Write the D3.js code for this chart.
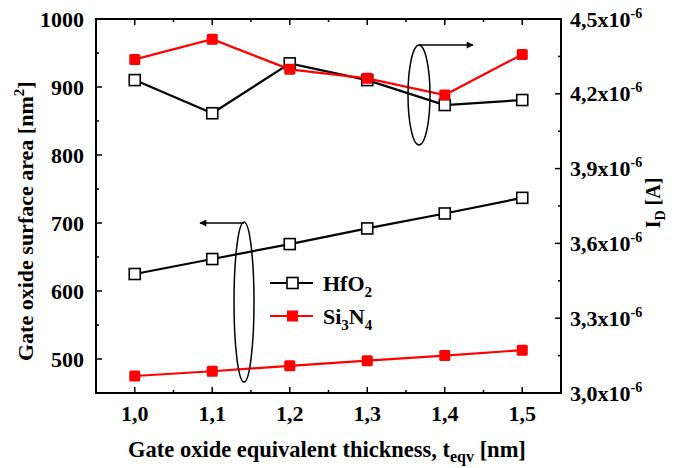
<!DOCTYPE html>
<html><head><meta charset="utf-8">
<script src="https://cdn.jsdelivr.net/npm/d3@7"></script>
<style>body{margin:0;background:#fff}svg{display:block}text{font-family:"Liberation Serif","Times New Roman",serif;font-weight:bold;fill:#000}</style>
</head><body>
<svg id="c" width="682" height="468"></svg>
<script>
const thickness = [1.0, 1.1, 1.2, 1.3, 1.4, 1.5];
const areaHfO2 = [625, 647, 669, 692, 714, 737];
const areaSi3N4 = [475, 482, 490, 497.5, 505, 513];
const idHfO2 = [4.255e-6, 4.122e-6, 4.322e-6, 4.255e-6, 4.155e-6, 4.175e-6];
const idSi3N4 = [4.338e-6, 4.419e-6, 4.298e-6, 4.262e-6, 4.195e-6, 4.358e-6];
const xTicks = [1.0, 1.1, 1.2, 1.3, 1.4, 1.5];
const leftTicks = [500, 600, 700, 800, 900, 1000];
const rightTicks = [3.0e-6, 3.3e-6, 3.6e-6, 3.9e-6, 4.2e-6, 4.5e-6];

const L = 96, R = 561, T = 19, B = 393;
const svg = d3.select("#c");
const x = d3.scaleLinear().domain([0.95, 1.55]).range([L, R]);
const yL = d3.scaleLinear().domain([450, 1000]).range([B, T]);
const yR = d3.scaleLinear().domain([3.0e-6, 4.5e-6]).range([B, T]);
const fmt = v => v.toFixed(1).replace(".", ",");

// ticks (inside)
const g = svg.append("g").attr("stroke", "#000").attr("stroke-width", 1.5);
const xMinor = d3.range(0, 12).map(i => 0.95 + 0.05 * i).filter(v => v > 0.96 && v < 1.54);
xMinor.forEach(v => {
  const major = xTicks.some(t => Math.abs(t - v) < 1e-6);
  const len = major ? 6 : 3;
  g.append("line").attr("x1", x(v)).attr("x2", x(v)).attr("y1", B).attr("y2", B - len);
  g.append("line").attr("x1", x(v)).attr("x2", x(v)).attr("y1", T).attr("y2", T + len);
});
d3.range(450, 1001, 50).forEach(v => {
  const len = v % 100 === 0 ? 6 : 3;
  g.append("line").attr("x1", L).attr("x2", L + len).attr("y1", yL(v)).attr("y2", yL(v));
});
d3.range(0, 11).map(i => 3.0e-6 + 0.15e-6 * i).forEach((v, i) => {
  const len = i % 2 === 0 ? 6 : 3;
  g.append("line").attr("x1", R).attr("x2", R - len).attr("y1", yR(v)).attr("y2", yR(v));
});
svg.append("rect").attr("x", L).attr("y", T).attr("width", R - L).attr("height", B - T)
  .attr("fill", "none").attr("stroke", "#000").attr("stroke-width", 2);

// tick labels
const fs = 22;
xTicks.forEach(v => svg.append("text").attr("x", x(v)).attr("y", 421).attr("text-anchor", "middle")
  .attr("font-size", fs).text(fmt(v)));
leftTicks.forEach(v => svg.append("text").attr("x", L - 12).attr("y", yL(v) + 7.5).attr("text-anchor", "end")
  .attr("font-size", fs).text(v));
rightTicks.forEach(v => {
  const t = svg.append("text").attr("x", R + 9).attr("y", yR(v) + 7.5).attr("font-size", fs);
  t.append("tspan").text(fmt(v * 1e6) + "x10");
  t.append("tspan").attr("dy", -9).attr("font-size", 14).text("-6");
});

// axis titles
const xt = svg.append("text").attr("x", 327).attr("y", 457).attr("text-anchor", "middle").attr("font-size", 22.5);
xt.append("tspan").text("Gate oxide equivalent thickness, t");
xt.append("tspan").attr("dy", 5).attr("font-size", 16).text("eqv");
xt.append("tspan").attr("dy", -5).text(" [nm]");

const yt = svg.append("text").attr("transform", "translate(33,361) rotate(-90)").attr("text-anchor", "start").attr("font-size", 22);
yt.append("tspan").text("Gate oxide surface area  [nm");
yt.append("tspan").attr("dy", -9).attr("font-size", 15).text("2");
yt.append("tspan").attr("dy", 9).text("]");

const rt = svg.append("text").attr("transform", "translate(660,203) rotate(-90)").attr("text-anchor", "middle").attr("font-size", 20);
rt.append("tspan").text("I");
rt.append("tspan").attr("dy", 5).attr("font-size", 14).text("D");
rt.append("tspan").attr("dy", -5).text(" [A]");

// series
function series(xs, ys, scale, color, filled) {
  const line = d3.line().x((d, i) => x(xs[i])).y(d => scale(d));
  svg.append("path").datum(ys).attr("d", line).attr("fill", "none").attr("stroke", color).attr("stroke-width", 2.2);
  svg.selectAll(null).data(ys).enter().append("rect")
    .attr("x", (d, i) => x(xs[i]) - 5.5).attr("y", d => scale(d) - 5.5)
    .attr("width", 11).attr("height", 11)
    .attr("rx", filled ? 1.5 : 0)
    .attr("fill", filled ? color : "#fff").attr("stroke", color).attr("stroke-width", filled ? 0 : 1.6);
}
series(thickness, idHfO2, yR, "#000", false);
series(thickness, idSi3N4, yR, "#ff0000", true);
series(thickness, areaHfO2, yL, "#000", false);
series(thickness, areaSi3N4, yL, "#ff0000", true);

// ellipses + arrows
const defs = svg.append("defs");
defs.append("marker").attr("id", "ah").attr("viewBox", "0 0 10 10").attr("refX", 9).attr("refY", 5)
  .attr("markerWidth", 10).attr("markerHeight", 7).attr("markerUnits", "userSpaceOnUse").attr("orient", "auto")
  .append("path").attr("d", "M0,0L10,5L0,10Z").attr("fill", "#000");
svg.append("ellipse").attr("cx", 244).attr("cy", 302).attr("rx", 10).attr("ry", 80)
  .attr("fill", "none").attr("stroke", "#000").attr("stroke-width", 1.5);
svg.append("line").attr("x1", 244).attr("y1", 223).attr("x2", 200).attr("y2", 223)
  .attr("stroke", "#000").attr("stroke-width", 1.5).attr("marker-end", "url(#ah)");
svg.append("ellipse").attr("cx", 419).attr("cy", 95).attr("rx", 11).attr("ry", 50)
  .attr("fill", "none").attr("stroke", "#000").attr("stroke-width", 1.5);
svg.append("line").attr("x1", 419).attr("y1", 45).attr("x2", 473).attr("y2", 45)
  .attr("stroke", "#000").attr("stroke-width", 1.5).attr("marker-end", "url(#ah)");

// legend
const legend = [
  {name: "HfO", sub: "2", color: "#000", filled: false, y: 283},
  {name: "Si", sub: "3", rest: "N", sub2: "4", color: "#ff0000", filled: true, y: 316}
];
legend.forEach(d => {
  svg.append("line").attr("x1", 270).attr("x2", 313).attr("y1", d.y).attr("y2", d.y)
    .attr("stroke", d.color).attr("stroke-width", 2.2);
  svg.append("rect").attr("x", 287).attr("y", d.y - 5.5).attr("width", 11).attr("height", 11)
    .attr("fill", d.filled ? d.color : "#fff").attr("stroke", d.color).attr("stroke-width", d.filled ? 0 : 1.6);
  const t = svg.append("text").attr("x", 323).attr("y", d.y + 8).attr("font-size", 22);
  t.append("tspan").text(d.name);
  t.append("tspan").attr("dy", 6).attr("font-size", 15).text(d.sub);
  if (d.rest) {
    t.append("tspan").attr("dy", -6).text(d.rest);
    t.append("tspan").attr("dy", 6).attr("font-size", 15).text(d.sub2);
  }
});
</script>
</body></html>
